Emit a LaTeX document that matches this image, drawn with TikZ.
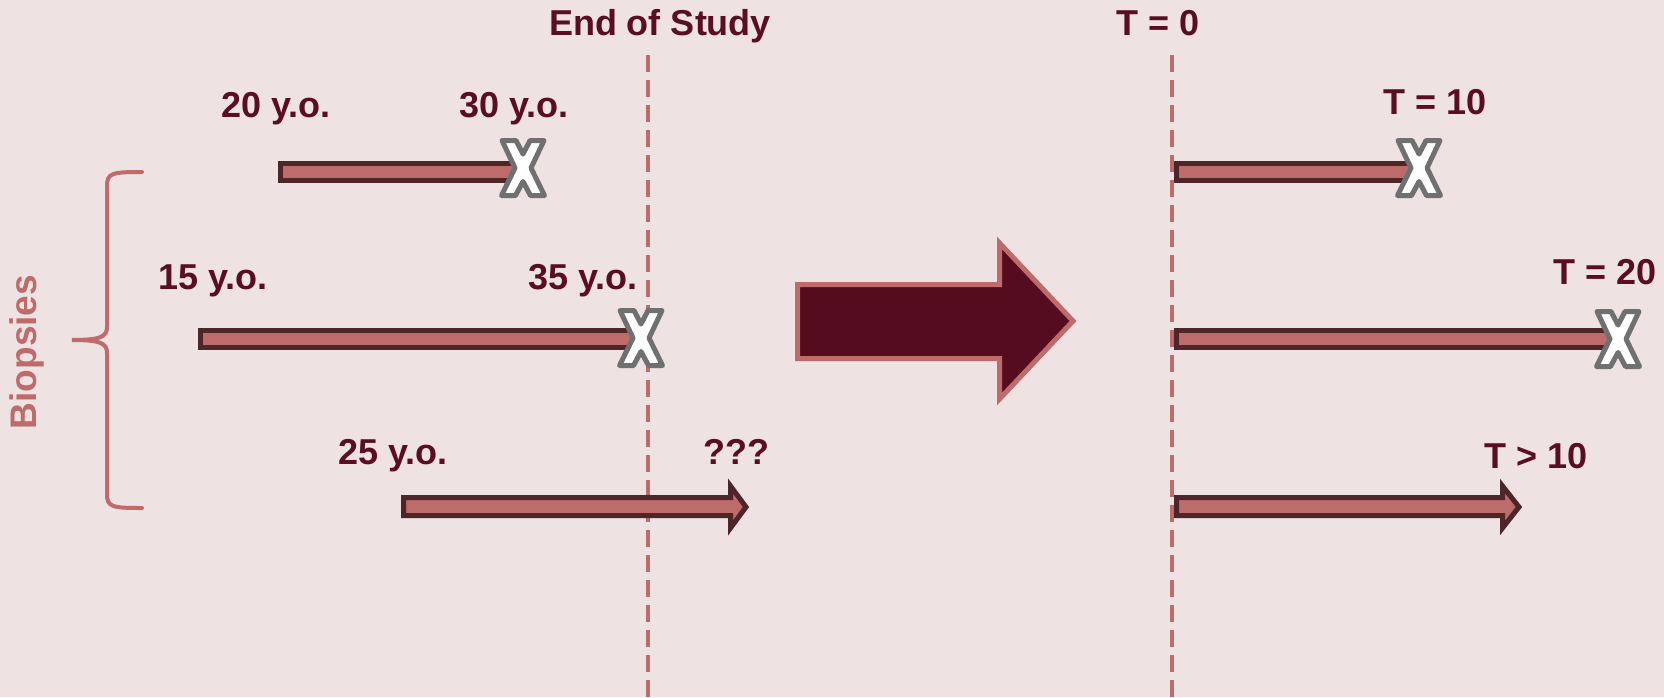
\documentclass[tikz,border=0pt]{standalone}
\usepackage{fontspec}
\setmainfont{Liberation Sans}
\definecolor{bgc}{HTML}{EEE2E2}
\definecolor{pinkc}{HTML}{BD6B6B}
\definecolor{maroon}{HTML}{5A0E22}
\definecolor{bigarrow}{HTML}{540C1E}
\definecolor{barline}{HTML}{4E2528}
\definecolor{xgray}{HTML}{707070}
\tikzset{
  lbl/.style={font=\fontsize{36}{40}\selectfont\bfseries, text=maroon, anchor=base, inner sep=0pt},
  barbox/.style={draw=barline, fill=pinkc, line width=5pt, line join=miter},
  enddash/.style={draw=pinkc, line width=4.5pt, dash pattern=on 17pt off 8pt},
  xmark/.pic={
    \draw[fill=white, draw=xgray, line width=5pt, line join=round]
      (-21,-27.5) -- (-7,-27.5) -- (0,-14) -- (7,-27.5) -- (21,-27.5) -- (8,0)
      -- (21.5,27.5) -- (7.5,27.5) -- (0,13.5) -- (-7.5,27.5) -- (-21.5,27.5) -- (-8,0) -- cycle;
  }
}
\begin{document}
\begin{tikzpicture}[x=1pt,y=-1pt]
\fill[bgc] (0,0) rectangle (1664,697);
\useasboundingbox (0,0) rectangle (1664,697);

% dashed lines
\coordinate (eosTop) at (648,55);
\coordinate (eosBot) at (648,697);
\coordinate (t0Top) at (1172,55);
\coordinate (t0Bot) at (1172,697);
\draw[enddash] (eosTop) -- (eosBot);
\draw[enddash] (t0Top) -- (t0Bot);

% headings
\node[lbl] (eos) at (660,35) {End of Study};
\node[lbl] (t0) at (1158,35) {T = 0};

% left bars
\draw[barbox] (280.5,163.5) rectangle (515,180.5);
\pic at (523,168) {xmark};
\draw[barbox] (200.5,330) rectangle (632,347.5);
\pic at (641,338) {xmark};
\draw[barbox] (403.5,497.5) -- (730.5,497.5) -- (730.5,486) -- (746,507) -- (730.5,528) -- (730.5,515.5) -- (403.5,515.5) -- cycle;

% right bars
\draw[barbox] (1176.5,163.5) rectangle (1412,180.5);
\pic at (1419,168) {xmark};
\draw[barbox] (1176.5,330) rectangle (1610,347.5);
\pic at (1618,339) {xmark};
\draw[barbox] (1176.5,497.5) -- (1502.5,497.5) -- (1502.5,486) -- (1519,507) -- (1502.5,528) -- (1502.5,515.5) -- (1176.5,515.5) -- cycle;

% labels
\node[lbl] (a20) at (276,117) {20 y.o.};
\node[lbl] (a30) at (514,117) {30 y.o.};
\node[lbl] (a15) at (213,289) {15 y.o.};
\node[lbl] (a35) at (583,289) {35 y.o.};
\node[lbl] (a25) at (393,464) {25 y.o.};
\node[lbl] (unk) at (736,464) {???};
\node[lbl] (t10) at (1435,114) {T = 10};
\node[lbl] (t20) at (1605,284) {T = 20};
\node[lbl] (tg10) at (1536,468) {T > 10};

% big arrow
\draw[fill=bigarrow, draw=pinkc, line width=5pt, line join=miter, miter limit=3]
  (797.5,284.5) -- (999.5,284.5) -- (999.5,243) -- (1073,321) -- (999.5,399) -- (999.5,358.5) -- (797.5,358.5) -- cycle;

% brace
\draw[pinkc, line width=4pt, line cap=round]
  (142,172) .. controls (112,172) and (107,173) .. (107,186) -- (107,327)
  .. controls (107,337) and (100,340) .. (72,340)
  .. controls (100,340) and (107,343) .. (107,353) -- (107,494)
  .. controls (107,507) and (112,508) .. (142,508);
\node[font=\fontsize{37}{40}\selectfont\bfseries, text=pinkc, rotate=90, inner sep=0pt] (bio) at (27,352) {Biopsies};
\end{tikzpicture}
\end{document}
